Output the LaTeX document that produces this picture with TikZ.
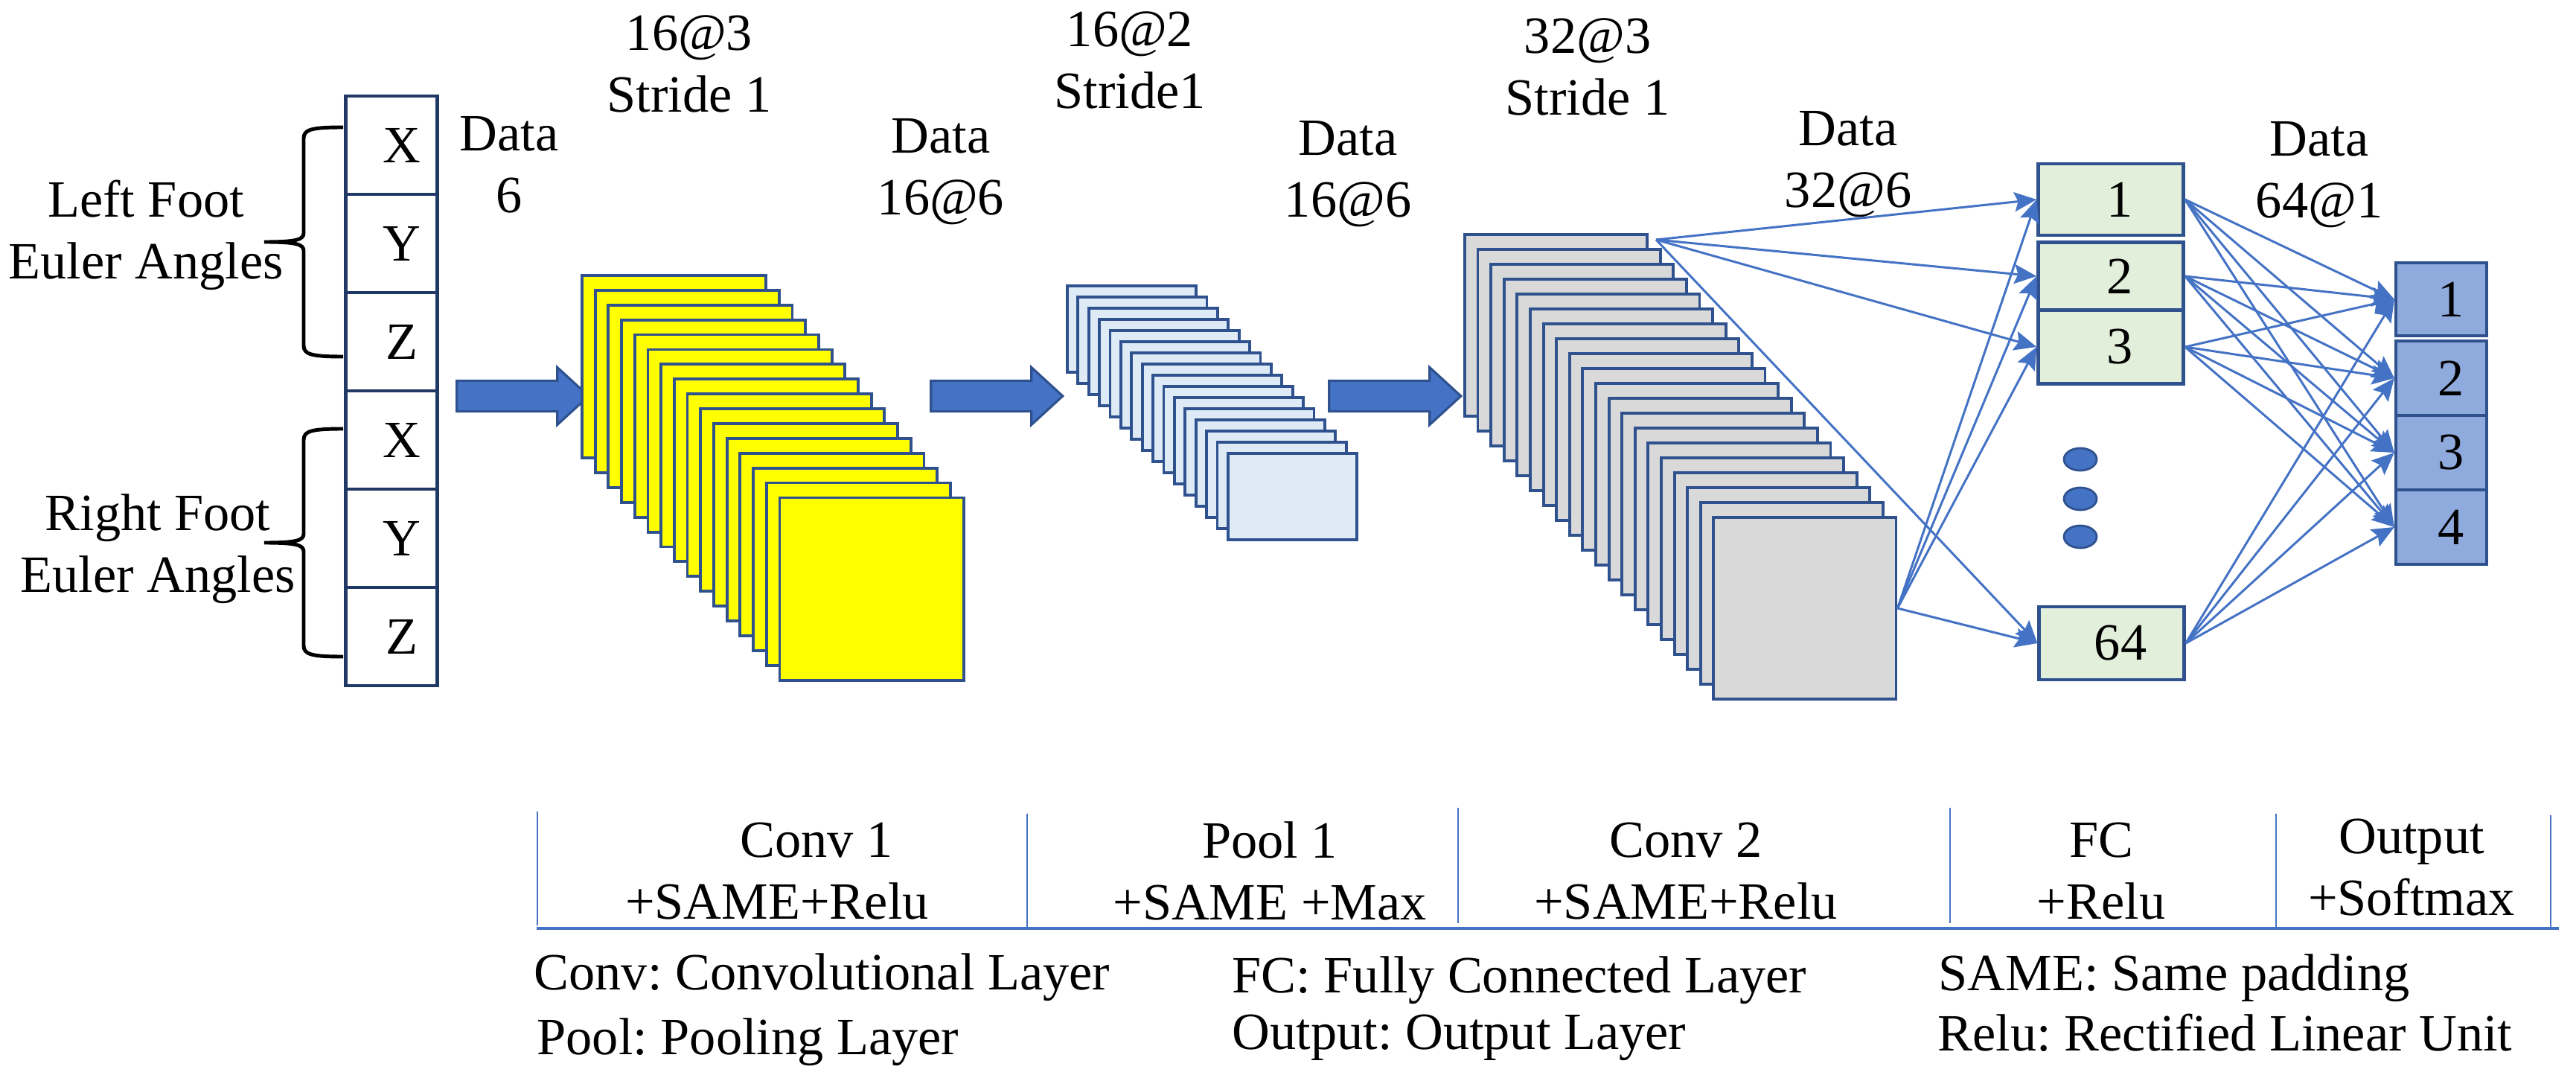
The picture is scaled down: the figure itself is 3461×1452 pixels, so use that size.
\documentclass[tikz,border=0pt]{standalone}
\usepackage{fontspec}
\setmainfont{Liberation Serif}
\usetikzlibrary{positioning, arrows.meta, calc}
\usetikzlibrary{shapes.geometric, shapes.arrows}
\frenchspacing

\definecolor{linec}{HTML}{4472C4}
\definecolor{bordc}{HTML}{2F528F}
\definecolor{cellc}{HTML}{203864}
\definecolor{convc}{HTML}{FFFF00}
\definecolor{poolc}{HTML}{DEEBF7}
\definecolor{grayc}{HTML}{D9D9D9}
\definecolor{fcc}{HTML}{E2EFDA}
\definecolor{outc}{HTML}{8FAADC}

% curly brace opening to the right, tip pointing left
\newcommand{\footbrace}[2]{%
  \draw[line width=1.4pt] (461,#1) .. controls (418,#1) and (408,{#1+3}) .. (408,{#1+15})
    -- (408,{(#1+#2)/2-12}) .. controls (408,{(#1+#2)/2-3}) and (398,{(#1+#2)/2}) .. (355,{(#1+#2)/2})
    .. controls (398,{(#1+#2)/2}) and (408,{(#1+#2)/2+3}) .. (408,{(#1+#2)/2+12})
    -- (408,{#2-15}) .. controls (408,{#2-3}) and (418,#2) .. (461,#2);}

\begin{document}
\begin{tikzpicture}[x=0.01cm, y=-0.01cm,
	font=\fontsize{20pt}{23.6pt}\selectfont,
	cell/.style={rectangle, draw=cellc, line width=1.2pt, fill=white, minimum width=1.23cm, minimum height=1.32cm, inner sep=0pt, execute at begin node={\hspace*{0.28cm}}},
	fmap/.style={rectangle, anchor=north west, draw=bordc, line width=1.1pt, inner sep=0pt},
	blockarrow/.style={single arrow, draw=bordc, fill=linec, line width=0.9pt, minimum height=1.77cm, inner sep=0.19cm, single arrow head extend=0.18cm, single arrow tip angle=85},
	fcbox/.style={rectangle, draw=bordc, fill=fcc, line width=1.2pt, minimum width=1.95cm, inner sep=0pt, execute at begin node={\hspace*{0.24cm}}},
	outbox/.style={rectangle, draw=bordc, fill=outc, line width=1.2pt, minimum width=1.22cm, inner sep=0pt, execute at begin node={\hspace*{0.26cm}}},
	dot/.style={ellipse, draw=bordc, fill=linec, line width=0.8pt, minimum width=0.44cm, minimum height=0.30cm, inner sep=0pt},
	conn/.style={draw=linec, line width=0.85pt, -{Stealth[length=0.3cm, width=0.26cm, inset=0.05cm]}},
	legend/.style={anchor=west, inner sep=0pt, text height=0.7em, text depth=0.22em}]
	\useasboundingbox (0,0) rectangle (3461,1452);
	% input layer
	\foreach \l [count=\i] in {X,Y,Z,X,Y,Z}
		\node[cell] (in\i) at (526,{63+132*\i}) {\l};
	\footbrace{171}{479}
	\footbrace{576}{882}
	\node[align=center] (lfoot) at (196,316) {Left Foot\\Euler Angles};
	\node[align=center] (rfoot) at (212,737) {Right Foot\\Euler Angles};
	\node[align=center] (d0) at (684,221) {Data\\6};
	% block arrows between layers
	\node[blockarrow] (a1) at (691,532) {};
	\node[blockarrow] (a2) at (1328,532) {};
	\node[blockarrow] (a3) at (1863,532) {};
	% conv 1 feature maps
	\foreach \i in {0,...,15}
		\node[fmap, fill=convc, minimum width=2.47cm, minimum height=2.45cm] (cv\i) at ({780+17.7*\i},{368+19.9*\i}) {};
	\node[align=center] (k1) at (926,86) {16@3\\Stride 1};
	\node[align=center] (d1) at (1264,231) {Data\\16@6};
	% pool 1 feature maps
	\foreach \i in {0,...,15}
		\node[fmap, fill=poolc, minimum width=1.73cm, minimum height=1.16cm] (pl\i) at ({1432+14.4*\i},{382+15*\i}) {};
	\node[align=center] (k2) at (1518,81) {16@2\\Stride1};
	\node[align=center] (d2) at (1811,234) {Data\\16@6};
	% conv 2 feature maps
	\foreach \i in {0,...,19}
		\node[fmap, fill=grayc, minimum width=2.45cm, minimum height=2.44cm] (g\i) at ({1966+17.6*\i},{313+20*\i}) {};
	\coordinate (gtop) at ($(g0.north east)+(10,9)$);
	\node[align=center] (k3) at (2133,90) {32@3\\Stride 1};
	\node[align=center] (d3) at (2483,221) {Data\\32@6};
	% fully connected layer
	\node[fcbox, minimum height=0.96cm] (fc1) at (2836,268) {1};
	\node[fcbox, minimum height=0.91cm] (fc2) at (2836,371) {2};
	\node[fcbox, minimum height=0.99cm] (fc3) at (2836,466) {3};
	\node[fcbox, minimum height=0.98cm] (fc64) at (2837,864) {64};
	\foreach \y [count=\i] in {617,670,721}
		\node[dot] (dot\i) at (2795,\y) {};
	\node[align=center] (d4) at (3116,235) {Data\\64@1};
	% output layer
	\node[outbox, minimum height=0.98cm] (out1) at (3280,402) {1};
	\node[outbox, minimum height=1.00cm] (out2) at (3280,508) {2};
	\node[outbox, minimum height=1.00cm] (out3) at (3280,608) {3};
	\node[outbox, minimum height=1.00cm] (out4) at (3280,708) {4};
	% conv 2 -> fc
	\foreach \f in {1,2,3,64} {
		\draw[conn] (gtop) -- (fc\f.west);
		\draw[conn] (g19.east) -- (fc\f.west);
	}
	% fc -> output
	\foreach \f in {1,2,3,64}
		\foreach \o in {1,...,4}
			\draw[conn] (fc\f.east) -- (out\o.west);
	% layer table
	\draw[linec, line width=1.1pt] (721,1247) -- (3438,1247);
	\foreach \x/\a/\b in {722/1090/1243, 1380/1093/1246, 1959/1085/1240, 2620/1085/1240, 3058/1093/1245, 3427/1095/1249}
		\draw[linec, line width=0.6pt] (\x,\a) -- (\x,\b);
	\node[align=center] (t1) at (1044,1170) {\hspace*{1.5em}Conv 1\\+SAME+Relu};
	\node[align=center] (t2) at (1706,1170) {Pool 1\\+SAME +Max};
	\node[align=center] (t3) at (2265,1170) {Conv 2\\+SAME+Relu};
	\node[align=center] (t4) at (2823,1170) {FC\\+Relu};
	\node[align=center] (t5) at (3240,1165) {Output\\+Softmax};
	% abbreviations
	\node[legend] (e1) at (717,1321) {Conv: Convolutional Layer};
	\node[legend] (e2) at (721,1408) {Pool: Pooling Layer};
	\node[legend] (e3) at (1655,1325) {FC: Fully Connected Layer};
	\node[legend] (e4) at (1655,1401) {Output: Output Layer};
	\node[legend] (e5) at (2604,1322) {SAME: Same padding};
	\node[legend] (e6) at (2603,1403) {Relu: Rectified Linear Unit};
\end{tikzpicture}
\end{document}
